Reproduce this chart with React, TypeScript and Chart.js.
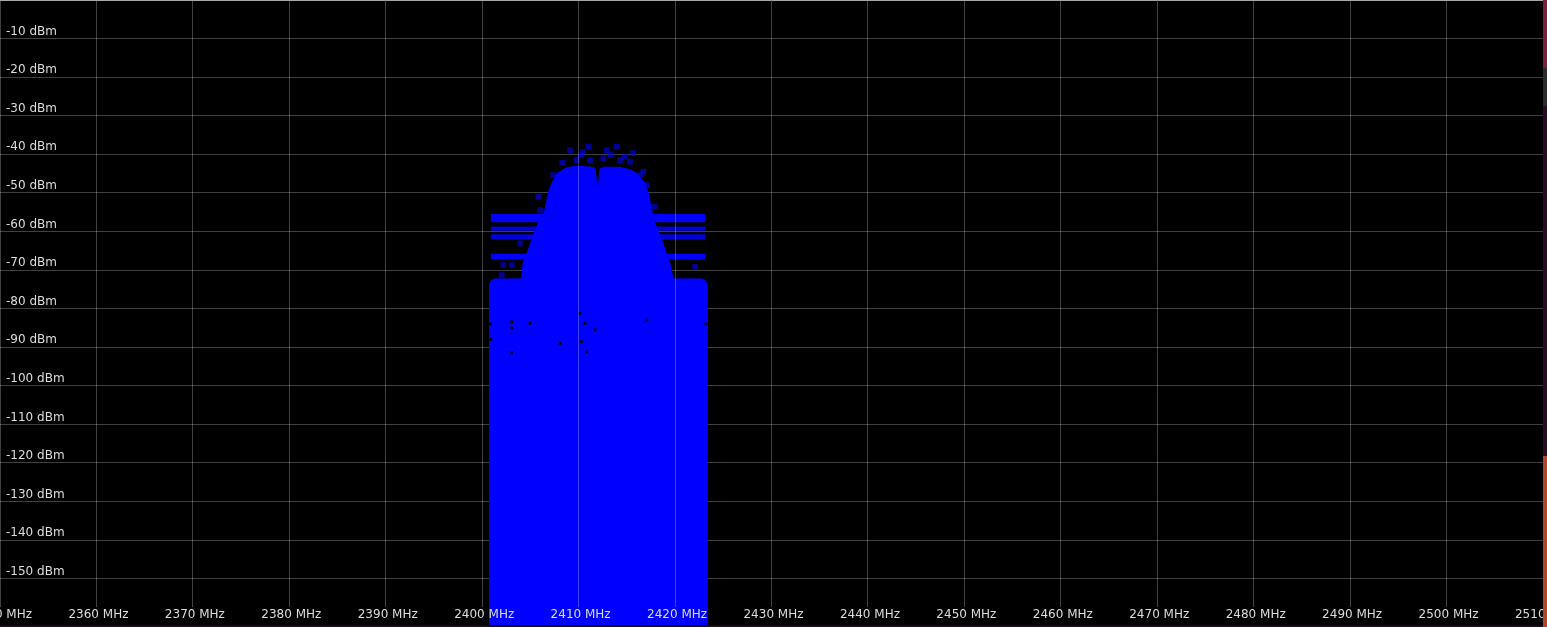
import React, { useEffect, useRef } from "react";
import { Chart, registerables } from "chart.js";

Chart.register(...registerables);

// ---------- data ----------
const xTicks = [2350, 2360, 2370, 2380, 2390, 2400, 2410, 2420, 2430, 2440, 2450, 2460, 2470, 2480, 2490, 2500, 2510];
const yTicks = [0, -10, -20, -30, -40, -50, -60, -70, -80, -90, -100, -110, -120, -130, -140, -150];

// upper envelope of the max-hold trace (MHz / dBm)
const envFreq = [2400.76, 2400.76, 2400.95, 2401.3, 2404.1, 2404.23, 2404.78, 2405.13, 2405.79, 2406.51, 2406.85, 2407.21, 2407.79, 2408.76, 2409.62, 2411.18, 2411.7, 2411.9, 2412.06, 2412.22, 2412.73, 2414.29, 2415.33, 2416.02, 2416.88, 2417.23, 2417.58, 2417.92, 2418.61, 2418.96, 2419.47, 2419.79, 2422.8, 2423.12, 2423.31, 2423.31];
const envLevel = [-162, -73.6, -72.7, -72.3, -72.3, -68.3, -64.8, -62.2, -57.9, -54.4, -50.1, -47.5, -44.9, -43.5, -43.1, -43.3, -43.6, -48.0, -48.0, -43.8, -43.3, -43.4, -44.0, -44.9, -47.5, -50.1, -54.4, -57.9, -62.2, -64.8, -68.3, -72.3, -72.3, -72.7, -73.6, -162];

// horizontal bands (spurs) across the channel
const bandStart = 2400.88;
const bandEnd = 2423.18;
const bandTop = [-55.5, -58.7, -60.7, -65.8];
const bandBottom = [-57.6, -59.8, -62.0, -67.2];

// scattered peaks above the envelope
const speckFreq = [2409.1, 2411.0, 2412.91, 2413.95, 2409.8, 2411.18, 2412.56, 2414.29, 2415.33, 2407.37, 2416.36, 2417.06, 2416.71, 2417.92, 2405.82, 2405.99, 2403.92, 2402.19, 2403.06, 2422.07, 2402.02, 2410.45, 2415.64, 2408.3, 2410.2, 2413.3, 2414.8];
const speckLevel = [-38.9, -38.0, -38.9, -38.0, -41.5, -41.5, -41.0, -41.5, -41.9, -45.4, -45.4, -48.0, -44.5, -53.6, -51.0, -54.4, -63.1, -68.7, -68.7, -69.1, -71.3, -39.4, -39.7, -42.2, -40.3, -40.0, -40.6];

// gaps (dark specks) inside the trace
const holeFreq = [2403.06, 2403.06, 2403.06, 2410.14, 2410.66, 2410.31, 2410.83, 2411.7, 2417.06, 2404.96, 2408.07, 2400.86, 2400.9, 2423.2];
const holeLevel = [-83.4, -85.0, -91.4, -81.2, -83.8, -88.6, -91.2, -85.5, -82.9, -83.8, -89.0, -84.0, -88.0, -84.0];

// ---------- styling ----------
const GRID = "rgba(255,255,255,0.25)";
const LABEL = "#dcdcdc";
const FONT = '"DejaVu Sans", sans-serif';

const xAxisPlugin = {
  id: "spectrumXAxis",
  afterDatasetsDraw(chart: any) {
    const { ctx, chartArea, scales } = chart;
    const xs = scales.x;
    ctx.save();
    ctx.strokeStyle = GRID;
    ctx.lineWidth = 1;
    for (const v of xTicks) {
      const px = Math.floor(xs.getPixelForValue(v)) + 0.5;
      ctx.beginPath();
      ctx.moveTo(px, chartArea.top + 1);
      ctx.lineTo(px, chartArea.bottom - 18);
      ctx.stroke();
    }
    ctx.font = "12px " + FONT;
    ctx.fillStyle = LABEL;
    ctx.textAlign = "center";
    ctx.textBaseline = "middle";
    for (const v of xTicks) {
      const px = xs.getPixelForValue(v);
      ctx.fillText(`${v} MHz`, px + 2, chartArea.bottom - 10);
    }
    ctx.restore();
  },
};

export default function App() {
  const ref = useRef<HTMLCanvasElement>(null);

  useEffect(() => {
    if (!ref.current) return;
    const env = envFreq.map((f, i) => ({ x: f, y: envLevel[i] }));
    const bands = bandTop.map((t, i) => ({
      type: "line" as const,
      data: [
        { x: bandStart, y: t },
        { x: bandEnd, y: t },
      ],
      borderWidth: 0,
      pointRadius: 0,
      backgroundColor: i === 0 || i === 3 ? "#0000ff" : "rgba(0,0,255,0.85)",
      fill: { value: bandBottom[i] },
      order: 3,
    }));
    const chart = new Chart(ref.current, {
      type: "scatter",
      data: {
        datasets: [
          ...bands,
          {
            type: "line",
            data: env,
            borderColor: "#0000ff",
            borderWidth: 1,
            pointRadius: 0,
            backgroundColor: "#0000ff",
            fill: "start",
            tension: 0,
            order: 2,
          },
          {
            type: "scatter",
            data: speckFreq.map((f, i) => ({ x: f, y: speckLevel[i] })),
            pointStyle: "rect",
            pointRadius: 4,
            borderWidth: 0,
            backgroundColor: "rgba(0,0,255,0.6)",
            order: 1,
          },
          {
            type: "scatter",
            data: holeFreq.map((f, i) => ({ x: f, y: holeLevel[i] })),
            pointStyle: "rect",
            pointRadius: 2,
            borderWidth: 0,
            backgroundColor: "#000010",
            order: 0,
          },
        ] as any,
      },
      options: {
        animation: false,
        responsive: false,
        devicePixelRatio: 1,
        events: [],
        layout: { padding: 0, autoPadding: false },
        plugins: { legend: { display: false }, tooltip: { enabled: false } },
        scales: {
          x: {
            type: "linear",
            min: 2350,
            max: 2510,
            display: false,
          },
          y: {
            type: "linear",
            min: -162,
            max: 0,
            z: 1,
            afterBuildTicks: (s: any) => {
              s.ticks = yTicks.map((v) => ({ value: v }));
            },
            afterFit: (s: any) => {
              s.width = 0;
              s.paddingTop = 0;
              s.paddingBottom = 0;
              s.paddingLeft = 0;
              s.paddingRight = 0;
            },
            border: { display: false },
            grid: {
              drawTicks: false,
              lineWidth: 1,
              color: (c: any) => (c.tick && c.tick.value === 0 ? "#a8a8a8" : GRID),
            },
            ticks: {
              mirror: true,
              padding: 6,
              labelOffset: -7,
              color: LABEL,
              font: { family: FONT, size: 12 },
              callback: (v: any) => (v === 0 ? "" : `${v} dBm`),
            },
          },
        },
      },
      plugins: [xAxisPlugin],
    });
    return () => chart.destroy();
  }, []);

  return (
    <div style={{ position: "fixed", left: 0, top: 0, width: 1547, height: 627, background: "#1c0a19", overflow: "hidden" }}>
      <canvas ref={ref} width={1543} height={625} style={{ position: "absolute", left: 0, top: 0, background: "#000", display: "block" }} />
      <div style={{ position: "absolute", left: 1543, top: 0, width: 4, height: 68, background: "#7b1f3f" }} />
      <div style={{ position: "absolute", left: 1543, top: 68, width: 4, height: 38, background: "#2b2b2b" }} />
      <div style={{ position: "absolute", left: 1543, top: 106, width: 4, height: 350, background: "#2a0c22" }} />
      <div style={{ position: "absolute", left: 1543, top: 456, width: 4, height: 171, background: "#b3422c" }} />
    </div>
  );
}
